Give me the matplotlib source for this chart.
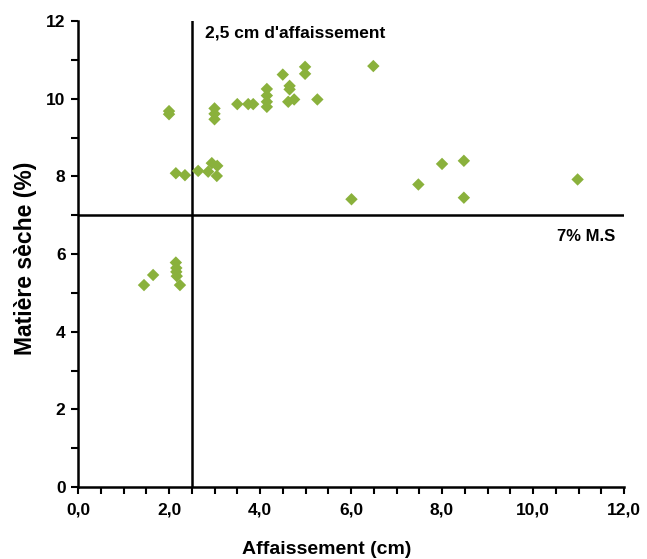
import matplotlib
matplotlib.use("Agg")
import matplotlib.pyplot as plt
from matplotlib.ticker import MultipleLocator, FuncFormatter

plt.rcParams['font.family'] = ['Liberation Sans', 'DejaVu Sans']

# affaissement (cm) et matiere seche (%)
affaissement = [2.0, 2.0, 2.15, 2.35, 2.64, 2.86, 2.94, 3.06, 3.05,
                3.0, 3.0, 3.0, 3.5, 3.74, 3.85,
                4.15, 4.15, 4.15, 4.15, 4.5, 4.65, 4.65, 4.62, 4.75,
                4.99, 4.99, 5.26, 6.49,
                6.01, 7.48, 8.0, 8.48, 8.48, 10.98,
                1.45, 1.65, 2.15, 2.16, 2.16, 2.17, 2.24]
matiere_seche = [9.68, 9.6, 8.08, 8.03, 8.14, 8.12, 8.34, 8.27, 8.01,
                 9.75, 9.61, 9.47, 9.86, 9.86, 9.86,
                 10.25, 10.08, 9.92, 9.79, 10.62, 10.33, 10.24, 9.92, 9.98,
                 10.82, 10.64, 9.98, 10.84,
                 7.41, 7.79, 8.32, 8.40, 7.45, 7.92,
                 5.2, 5.46, 5.78, 5.64, 5.54, 5.43, 5.2]

seuil_affaissement = 2.5
seuil_ms = 7

fig = plt.figure(figsize=(6.47, 5.59), dpi=100)
ax = fig.add_axes([0.1206, 0.1288, 0.8439, 0.8336])

ax.scatter(affaissement, matiere_seche, marker='D', s=40, color='#8AB13C',
           edgecolors='none', zorder=3)

ax.axvline(seuil_affaissement, color='black', lw=1.8, zorder=2)
ax.axhline(seuil_ms, color='black', lw=1.8, zorder=2)

ax.set_xlim(0, 12)
ax.set_ylim(0, 12)
ax.xaxis.set_major_locator(MultipleLocator(2))
ax.xaxis.set_minor_locator(MultipleLocator(0.5))
ax.yaxis.set_major_locator(MultipleLocator(2))
ax.yaxis.set_minor_locator(MultipleLocator(1))
ax.xaxis.set_major_formatter(FuncFormatter(lambda v, p: f"{v:.1f}".replace('.', ',')))
ax.yaxis.set_major_formatter(FuncFormatter(lambda v, p: f"{v:.0f}"))

for s in ['top', 'right']:
    ax.spines[s].set_visible(False)
for s in ['left', 'bottom']:
    ax.spines[s].set_linewidth(1.8)
    ax.spines[s].set_zorder(4)
ax.tick_params(which='both', direction='out', width=1.5, labelsize=12.5, length=5)
ax.tick_params(axis='x', pad=6)
ax.tick_params(axis='y', pad=4)
for lab in ax.get_xticklabels() + ax.get_yticklabels():
    lab.set_fontweight('bold')

ax.set_xlabel('Affaissement (cm)', fontsize=14, fontweight='bold')
ax.set_ylabel('Matière sèche (%)', fontsize=16.5, fontweight='bold')
ax.xaxis.set_label_coords(0.455, -0.115)
ax.yaxis.set_label_coords(-0.075, 0.49)

ax.text(2.8, 11.7, "2,5 cm d'affaissement", fontsize=12.5, fontweight='bold',
        ha='left', va='center')
ax.text(11.8, 6.46, "7% M.S", fontsize=12, fontweight='bold',
        ha='right', va='center')

fig.savefig('out.png', dpi=100)
